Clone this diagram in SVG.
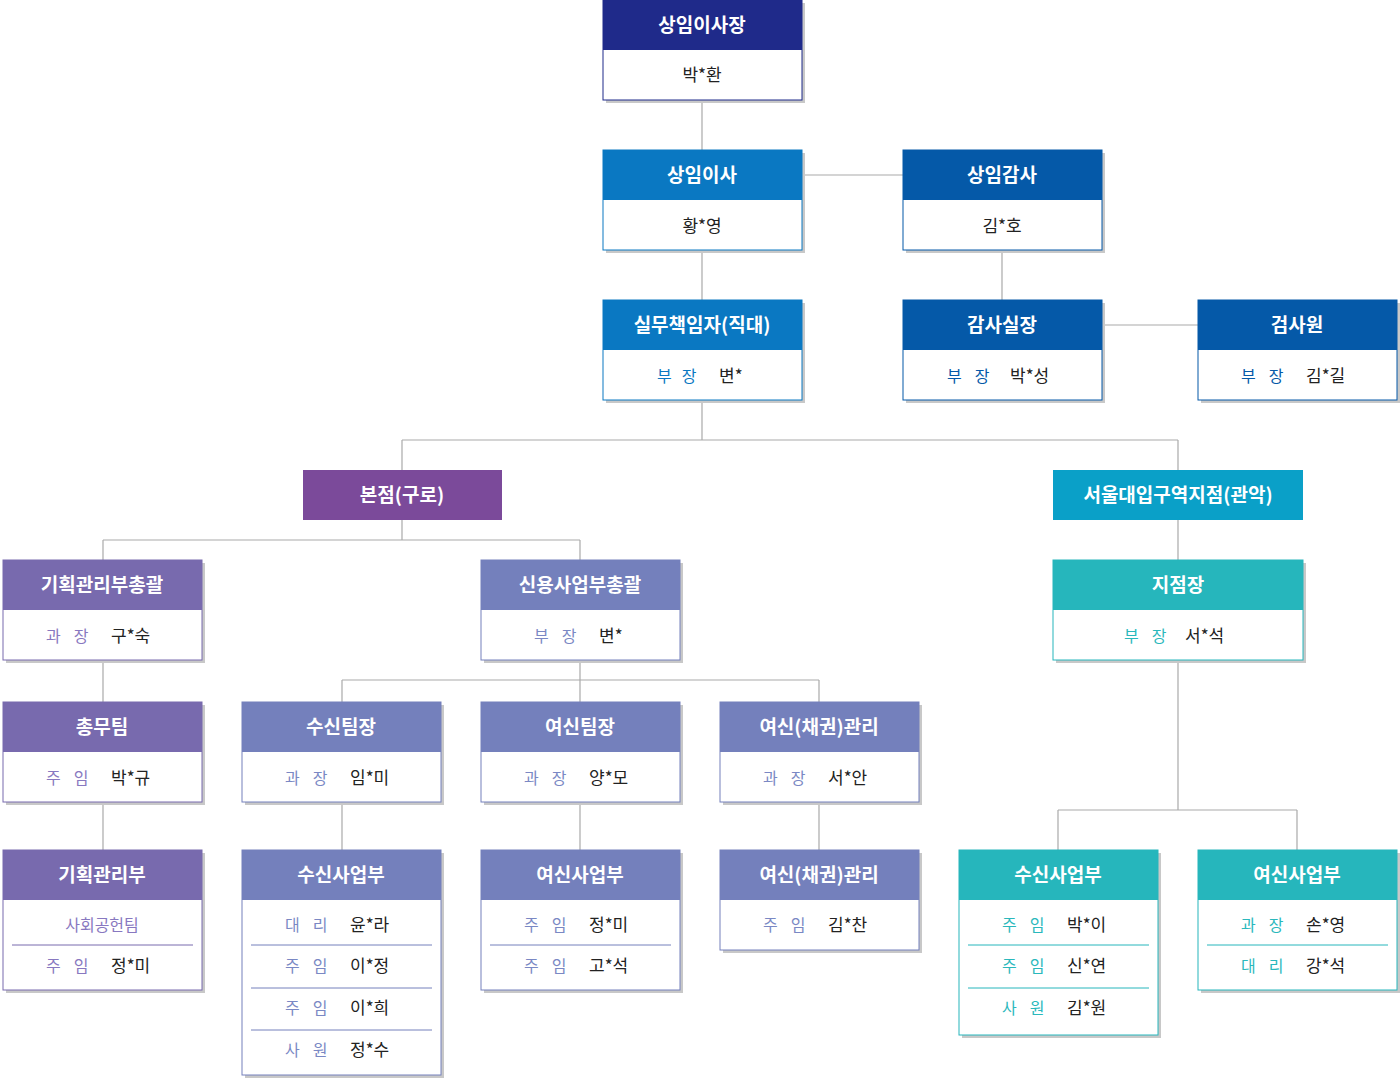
<svg xmlns="http://www.w3.org/2000/svg" width="1400" height="1080" viewBox="0 0 1400 1080">
<style>
text{font-family:"Noto Sans CJK KR","Noto Sans",sans-serif}
.h{fill:#fff;font-size:19px;font-weight:bold;text-anchor:middle}
.n{fill:#222;font-size:17px}
.r{font-size:16px}
.sh{fill:#c8c8c8}
.b{fill:#fff}
.ln{stroke:#aaa;stroke-width:1.2;fill:none}
</style>
<g id="connectors" class="ln">
<path d="M702 100V150M802 175H903M702 250V300M1002 250V300M1102 325H1198M702 400V440M402 440H1178M402 440V470M1178 440V470M402 520V540M103 540H580M103 540V560M580 540V560M1178 520V560M103 660V702M580 660V680M342 680H819M342 680V702M580 680V702M819 680V702M103 802V850M342 802V850M580 802V850M819 802V850M1178 660V810M1058 810H1297M1058 810V850M1297 810V850"/>
</g>
<g id="n1"><rect class="sh" x="606" y="3" width="199" height="100"/><rect class="b" x="603" y="0" width="199" height="100" stroke="#1f2a8a"/><rect x="603" y="0" width="199" height="50" fill="#1f2a8a"/><text class="h" x="702" y="32">상임이사장</text><text class="n" x="702" y="81" text-anchor="middle">박*환</text></g>
<g id="n2"><rect class="sh" x="606" y="153" width="199" height="100"/><rect class="b" x="603" y="150" width="199" height="100" stroke="#0a78c2"/><rect x="603" y="150" width="199" height="50" fill="#0a78c2"/><text class="h" x="702" y="182">상임이사</text><text class="n" x="702" y="232" text-anchor="middle">황*영</text></g>
<g id="n3"><rect class="sh" x="906" y="153" width="199" height="100"/><rect class="b" x="903" y="150" width="199" height="100" stroke="#0559a8"/><rect x="903" y="150" width="199" height="50" fill="#0559a8"/><text class="h" x="1002" y="182">상임감사</text><text class="n" x="1002" y="232" text-anchor="middle">김*호</text></g>
<g id="n4"><rect class="sh" x="606" y="303" width="199" height="100"/><rect class="b" x="603" y="300" width="199" height="100" stroke="#0a78c2"/><rect x="603" y="300" width="199" height="50" fill="#0a78c2"/><text class="h" x="702" y="332">실무책임자(직대)</text><text class="r" x="657" y="382" fill="#0a78c2">부<tspan dx="10">장</tspan></text><text class="n" x="719" y="382">변*</text></g>
<g id="n5"><rect class="sh" x="906" y="303" width="199" height="100"/><rect class="b" x="903" y="300" width="199" height="100" stroke="#0559a8"/><rect x="903" y="300" width="199" height="50" fill="#0559a8"/><text class="h" x="1002" y="332">감사실장</text><text class="r" x="947" y="382" fill="#0559a8">부<tspan dx="13">장</tspan></text><text class="n" x="1010" y="382">박*성</text></g>
<g id="n6"><rect class="sh" x="1201" y="303" width="199" height="100"/><rect class="b" x="1198" y="300" width="199" height="100" stroke="#0559a8"/><rect x="1198" y="300" width="199" height="50" fill="#0559a8"/><text class="h" x="1297" y="332">검사원</text><text class="r" x="1241" y="382" fill="#0559a8">부<tspan dx="13">장</tspan></text><text class="n" x="1306" y="382">김*길</text></g>
<g id="n7"><rect x="303" y="470" width="199" height="50" fill="#7b4a9a"/><text class="h" x="402" y="502">본점(구로)</text></g>
<g id="n8"><rect x="1053" y="470" width="250" height="50" fill="#0aa0c8"/><text class="h" x="1178" y="502">서울대입구역지점(관악)</text></g>
<g id="n9"><rect class="sh" x="6" y="563" width="199" height="100"/><rect class="b" x="3" y="560" width="199" height="100" stroke="#786aae"/><rect x="3" y="560" width="199" height="50" fill="#786aae"/><text class="h" x="102" y="592">기획관리부총괄</text><text class="r" x="46" y="642" fill="#8878c0">과<tspan dx="13">장</tspan></text><text class="n" x="111" y="642">구*숙</text></g>
<g id="n10"><rect class="sh" x="484" y="563" width="199" height="100"/><rect class="b" x="481" y="560" width="199" height="100" stroke="#7480bc"/><rect x="481" y="560" width="199" height="50" fill="#7480bc"/><text class="h" x="580" y="592">신용사업부총괄</text><text class="r" x="534" y="642" fill="#7a88c4">부<tspan dx="13">장</tspan></text><text class="n" x="599" y="642">변*</text></g>
<g id="n11"><rect class="sh" x="1056" y="563" width="250" height="100"/><rect class="b" x="1053" y="560" width="250" height="100" stroke="#26b6bc"/><rect x="1053" y="560" width="250" height="50" fill="#26b6bc"/><text class="h" x="1178" y="592">지점장</text><text class="r" x="1124" y="642" fill="#2ab8bc">부<tspan dx="13">장</tspan></text><text class="n" x="1185" y="642">서*석</text></g>
<g id="n12"><rect class="sh" x="6" y="705" width="199" height="100"/><rect class="b" x="3" y="702" width="199" height="100" stroke="#786aae"/><rect x="3" y="702" width="199" height="50" fill="#786aae"/><text class="h" x="102" y="734">총무팀</text><text class="r" x="46" y="784" fill="#8878c0">주<tspan dx="13">임</tspan></text><text class="n" x="111" y="784">박*규</text></g>
<g id="n13"><rect class="sh" x="245" y="705" width="199" height="100"/><rect class="b" x="242" y="702" width="199" height="100" stroke="#7480bc"/><rect x="242" y="702" width="199" height="50" fill="#7480bc"/><text class="h" x="341" y="734">수신팀장</text><text class="r" x="285" y="784" fill="#7a88c4">과<tspan dx="13">장</tspan></text><text class="n" x="350" y="784">임*미</text></g>
<g id="n14"><rect class="sh" x="484" y="705" width="199" height="100"/><rect class="b" x="481" y="702" width="199" height="100" stroke="#7480bc"/><rect x="481" y="702" width="199" height="50" fill="#7480bc"/><text class="h" x="580" y="734">여신팀장</text><text class="r" x="524" y="784" fill="#7a88c4">과<tspan dx="13">장</tspan></text><text class="n" x="589" y="784">양*모</text></g>
<g id="n15"><rect class="sh" x="723" y="705" width="199" height="100"/><rect class="b" x="720" y="702" width="199" height="100" stroke="#7480bc"/><rect x="720" y="702" width="199" height="50" fill="#7480bc"/><text class="h" x="819" y="734">여신(채권)관리</text><text class="r" x="763" y="784" fill="#7a88c4">과<tspan dx="13">장</tspan></text><text class="n" x="828" y="784">서*안</text></g>
<g id="n16"><rect class="sh" x="6" y="853" width="199" height="140"/><rect class="b" x="3" y="850" width="199" height="140" stroke="#786aae"/><rect x="3" y="850" width="199" height="50" fill="#786aae"/><text class="h" x="102" y="882">기획관리부</text><text x="102" y="931" font-size="16" fill="#8878c0" text-anchor="middle">사회공헌팀</text><line x1="12" y1="945" x2="193" y2="945" stroke="#786aae"/><text class="r" x="46" y="972" fill="#8878c0">주<tspan dx="13">임</tspan></text><text class="n" x="111" y="972">정*미</text></g>
<g id="n17"><rect class="sh" x="245" y="853" width="199" height="225"/><rect class="b" x="242" y="850" width="199" height="225" stroke="#7480bc"/><rect x="242" y="850" width="199" height="50" fill="#7480bc"/><text class="h" x="341" y="882">수신사업부</text>
<text class="r" x="285" y="931" fill="#7a88c4">대<tspan dx="13">리</tspan></text><text class="n" x="350" y="931">윤*라</text><line x1="251" y1="945" x2="432" y2="945" stroke="#7480bc"/>
<text class="r" x="285" y="972" fill="#7a88c4">주<tspan dx="13">임</tspan></text><text class="n" x="350" y="972">이*정</text><line x1="251" y1="988" x2="432" y2="988" stroke="#7480bc"/>
<text class="r" x="285" y="1014" fill="#7a88c4">주<tspan dx="13">임</tspan></text><text class="n" x="350" y="1014">이*희</text><line x1="251" y1="1030" x2="432" y2="1030" stroke="#7480bc"/>
<text class="r" x="285" y="1056" fill="#7a88c4">사<tspan dx="13">원</tspan></text><text class="n" x="350" y="1056">정*수</text></g>
<g id="n18"><rect class="sh" x="484" y="853" width="199" height="140"/><rect class="b" x="481" y="850" width="199" height="140" stroke="#7480bc"/><rect x="481" y="850" width="199" height="50" fill="#7480bc"/><text class="h" x="580" y="882">여신사업부</text>
<text class="r" x="524" y="931" fill="#7a88c4">주<tspan dx="13">임</tspan></text><text class="n" x="589" y="931">정*미</text><line x1="490" y1="945" x2="671" y2="945" stroke="#7480bc"/>
<text class="r" x="524" y="972" fill="#7a88c4">주<tspan dx="13">임</tspan></text><text class="n" x="589" y="972">고*석</text></g>
<g id="n19"><rect class="sh" x="723" y="853" width="199" height="100"/><rect class="b" x="720" y="850" width="199" height="100" stroke="#7480bc"/><rect x="720" y="850" width="199" height="50" fill="#7480bc"/><text class="h" x="819" y="882">여신(채권)관리</text><text class="r" x="763" y="931" fill="#7a88c4">주<tspan dx="13">임</tspan></text><text class="n" x="828" y="931">김*찬</text></g>
<g id="n20"><rect class="sh" x="962" y="853" width="199" height="185"/><rect class="b" x="959" y="850" width="199" height="185" stroke="#26b6bc"/><rect x="959" y="850" width="199" height="50" fill="#26b6bc"/><text class="h" x="1058" y="882">수신사업부</text>
<text class="r" x="1002" y="931" fill="#2ab8bc">주<tspan dx="13">임</tspan></text><text class="n" x="1067" y="931">박*이</text><line x1="968" y1="945" x2="1149" y2="945" stroke="#26b6bc"/>
<text class="r" x="1002" y="972" fill="#2ab8bc">주<tspan dx="13">임</tspan></text><text class="n" x="1067" y="972">신*연</text><line x1="968" y1="988" x2="1149" y2="988" stroke="#26b6bc"/>
<text class="r" x="1002" y="1014" fill="#2ab8bc">사<tspan dx="13">원</tspan></text><text class="n" x="1067" y="1014">김*원</text></g>
<g id="n21"><rect class="sh" x="1201" y="853" width="199" height="140"/><rect class="b" x="1198" y="850" width="199" height="140" stroke="#26b6bc"/><rect x="1198" y="850" width="199" height="50" fill="#26b6bc"/><text class="h" x="1297" y="882">여신사업부</text>
<text class="r" x="1241" y="931" fill="#2ab8bc">과<tspan dx="13">장</tspan></text><text class="n" x="1306" y="931">손*영</text><line x1="1207" y1="945" x2="1388" y2="945" stroke="#26b6bc"/>
<text class="r" x="1241" y="972" fill="#2ab8bc">대<tspan dx="13">리</tspan></text><text class="n" x="1306" y="972">강*석</text></g>
</svg>
